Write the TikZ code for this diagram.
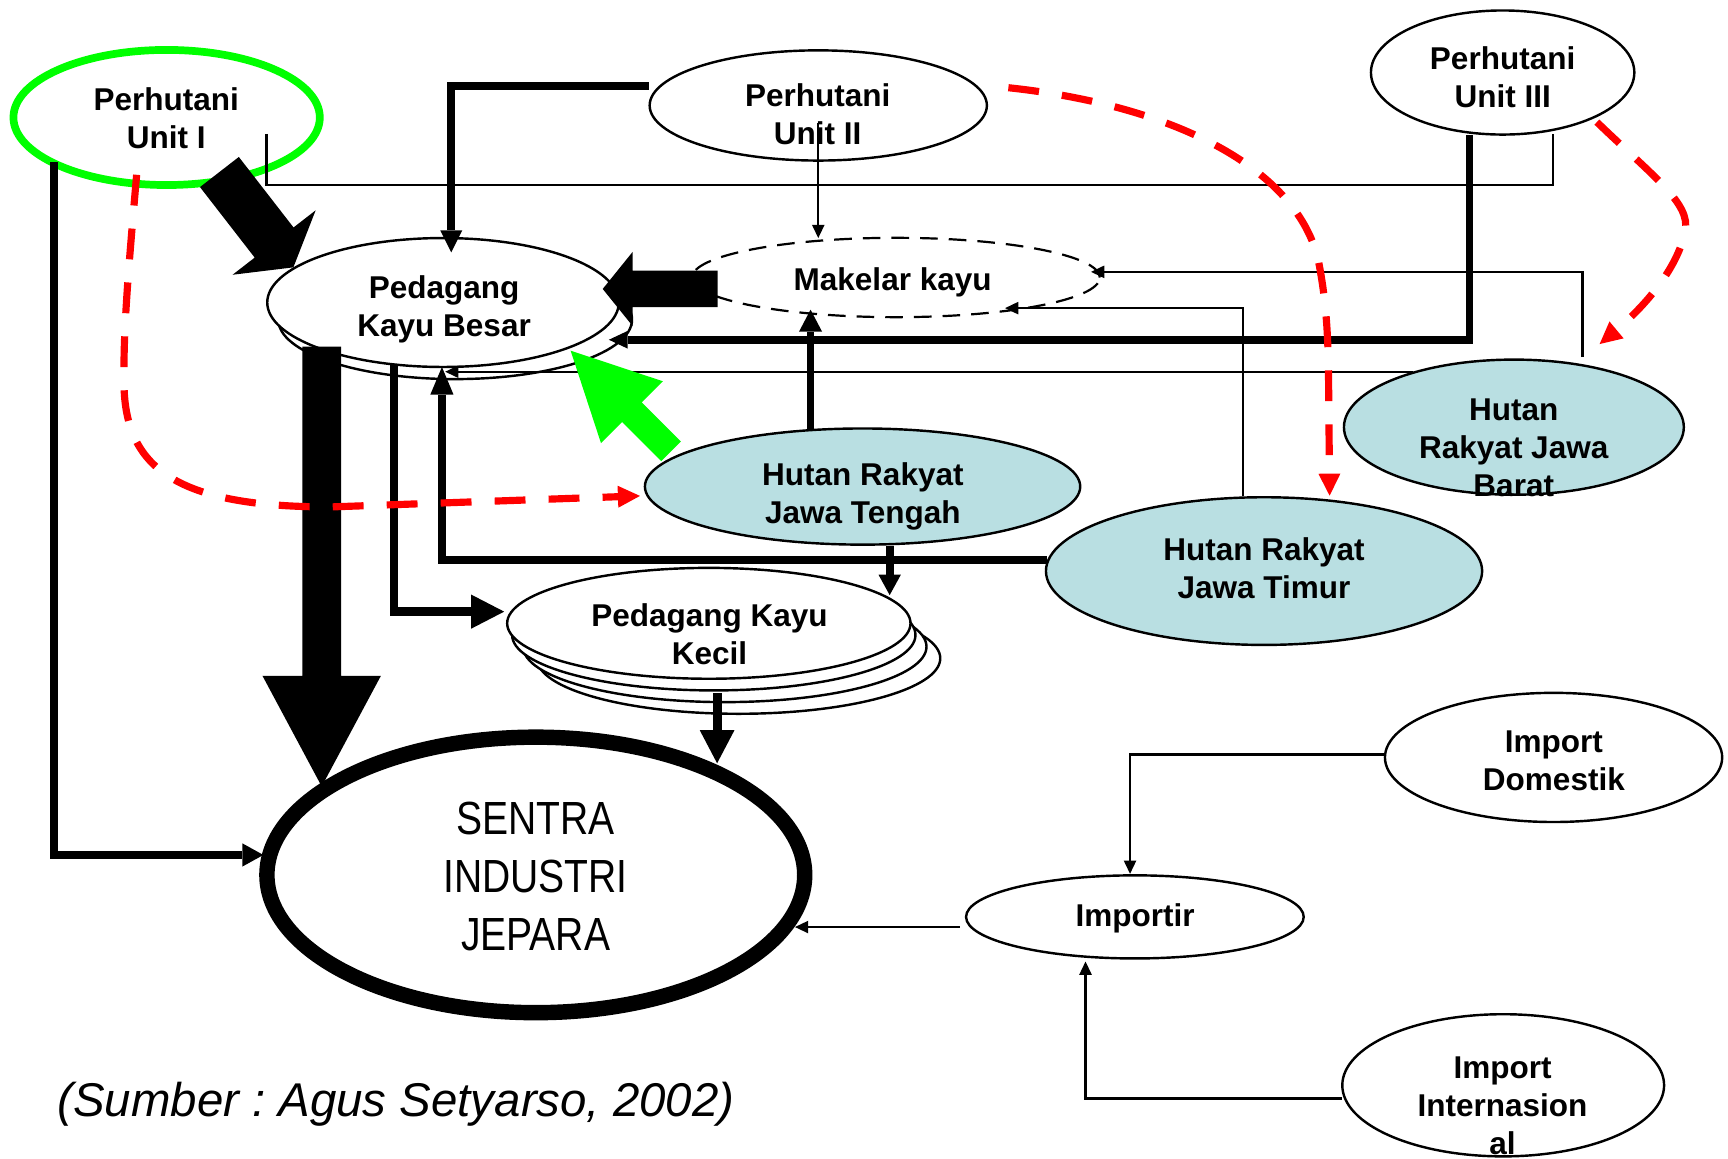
\documentclass[tikz,border=0pt]{standalone}
\usepackage{fontspec}
\setmainfont{Liberation Sans}
\newfontfamily\sentrafont[FakeStretch=0.84]{Liberation Sans}
\usetikzlibrary{shapes.geometric,arrows.meta,calc}
\definecolor{hutan}{RGB}{185,223,226}
\definecolor{pgreen}{RGB}{0,255,0}
\definecolor{pred}{RGB}{255,0,0}
\frenchspacing
\newcommand\blockarrow[6]{%
  \coordinate (bahead) at ($(#3)!#6!(#2)$);
  \fill[#1] ($(#2)!#4!90:(#3)$) -- ($(bahead)!#4!-90:(#2)$) -- ($(bahead)!#5!-90:(#2)$) -- (#3)
    -- ($(bahead)!#5!90:(#2)$) -- ($(bahead)!#4!90:(#2)$) -- ($(#2)!#4!-90:(#3)$) -- cycle;}
\tikzset{
  ell/.style={ellipse, draw, line width=2.2pt, fill=white, inner sep=0pt, outer sep=0pt},
  hut/.style={ell, fill=hutan},
  mkell/.style={ell, line width=2pt, dash pattern=on 16pt off 10pt},
  lbl/.style={font=\fontsize{28.6}{34.4}\selectfont\bfseries, align=center, inner sep=0pt},
  thinc/.style={line width=2.2pt},
  thinarr/.style={thinc, -{Triangle[length=12pt,width=11.5pt,line width=0pt]}},
  thickarr/.style 2 args={line width=7pt, -{Triangle[length=#1,width=#2,line width=0pt]}},
  redarr/.style={line width=6.5pt, draw=pred, dash pattern=on 28pt off 21pt,
    -{Triangle[length=20pt,width=20pt,line width=0pt]}},
}
\begin{document}
\begin{tikzpicture}[x=1pt,y=-1pt]
\useasboundingbox (0,0) rectangle (1568,1050.8);
% ---- shapes
\node[ell, draw=pgreen, line width=7pt, minimum width=278pt, minimum height=122.6pt] (p1) at (151.2,106.6) {};
\node[ell, minimum width=306pt, minimum height=100pt] (p2) at (742.5,95.7) {};
\node[ell, minimum width=239pt, minimum height=112.6pt] (p3) at (1363.5,65.8) {};
\node[ell, minimum width=321pt, minimum height=108pt] (pkbs) at (413,290) {};
\node[ell, minimum width=319pt, minimum height=117pt] (pkb) at (402,274.5) {};
\node[mkell, minimum width=370pt, minimum height=72pt] (mk) at (813,251.8) {};
\node[hut, minimum width=395pt, minimum height=105.4pt] (jt) at (782.7,441.5) {};
\node[hut, minimum width=395.8pt, minimum height=134pt] (jti) at (1147,518.2) {};
\node[hut, minimum width=308.4pt, minimum height=122.6pt] (jb) at (1373.7,387.6) {};
\node[ell, minimum width=366pt, minimum height=100.6pt] (kcs3) at (670.2,597.4) {};
\node[ell, minimum width=366pt, minimum height=100.6pt] (kcs2) at (657.7,586.8) {};
\node[ell, minimum width=366pt, minimum height=100.6pt] (kcs1) at (647.7,576.2) {};
\node[ell, minimum width=366pt, minimum height=100.6pt] (kc) at (643.2,565.6) {};
\node[ell, line width=14pt, minimum width=488pt, minimum height=250pt] (sentra) at (486.2,793.9) {};
\node[ell, minimum width=306pt, minimum height=117.2pt] (imd) at (1409.7,687.3) {};
\node[ell, minimum width=306.4pt, minimum height=75.4pt] (imp) at (1029.8,832) {};
\node[ell, minimum width=292pt, minimum height=129pt] (imi) at (1364,984.8) {};
% ---- texts
\node[lbl] (t1) at (150.8,110.6) {\strut Perhutani\\\strut Unit I};
\node[lbl] (t2) at (742,107.4) {\strut Perhutani\\\strut Unit II};
\node[lbl] (t3) at (1363.5,73.4) {\strut Perhutani\\\strut Unit III};
\node[lbl] (t4) at (403,281.4) {\strut Pedagang\\\strut Kayu Besar};
\node[lbl] (t5) at (810,256.7) {\strut Makelar kayu};
\node[lbl] (t6) at (783,451.2) {\strut Hutan Rakyat\\\strut Jawa Tengah};
\node[lbl] (t7) at (1147,518.7) {\strut Hutan Rakyat\\\strut Jawa Timur};
\node[lbl] (t8) at (1373.6,409) {\strut Hutan\\\strut Rakyat Jawa\\\strut Barat};
\node[lbl] (t9) at (643.8,578.7) {\strut Pedagang Kayu\\\strut Kecil};
\node[lbl] (t10) at (1410,692.8) {\strut Import\\\strut Domestik};
\node[lbl] (t11) at (1030,833.8) {\strut Importir};
\node[lbl] (t12) at (1363.4,1006.4) {\strut Import\\\strut Internasion\\\strut al};
\node[font=\sentrafont\fontsize{42.2}{52.7}\selectfont, align=center, inner sep=0pt] (t13) at (486,799.4)
  {\strut SENTRA\\\strut INDUSTRI\\\strut JEPARA};
\node[font=\fontsize{43}{50}\selectfont\itshape, anchor=base west, inner sep=0pt] (src) at (52,1013)
  {(Sumber : Agus Setyarso, 2002)};
% ---- thin connectors
\draw[thinc] ($(p1)+(90.8,14.9)$) -- ++(0,46.3) -| ($(p3)+(45.5,55.7)$);
\draw[thinarr] ($(p2)+(0,16.3)$) -- ($(mk)+(-70.5,-35.8)$);
\draw[thinarr] ($(jb)+(62.3,-63.6)$) |- ($(mk)+(177,-5.1)$);
\draw[thinarr] ($(jti)+(-19,-67.9)$) |- ($(mk)+(99,27.8)$);
\draw[thinarr] ($(jb)+(-91.7,-50.3)$) -- ($(pkb)+(2,62.8)$);
\draw[thinarr] ($(imd)+(-154.2,-2.8)$) -| ($(imp)+(-4.4,-39.1)$);
\draw[thinarr] ($(imi)+(-146.5,12.1)$) -| ($(imp)+(-44.8,40.5)$);
\draw[thinarr] ($(imp)+(-158.8,9.2)$) -- ($(sentra)+(235.2,47.3)$);
% ---- thick connectors
\draw[thickarr={20pt}{20pt}] ($(p2)+(-154,-17.7)$) -| ($(pkb)+(7.5,-45.5)$);
\draw[thickarr={17pt}{16pt}] ($(p3)+(-30.1,56.8)$) |- ($(pkb)+(150.5,33.8)$);
\draw[thickarr={20pt}{21pt}] ($(jt)+(-47.2,-51.5)$) -- ($(mk)+(-77.5,29.2)$);
\draw[thickarr={25pt}{21pt}] ($(jti)+(-197,-9.8)$) -| ($(pkb)+(-1,58.5)$);
\draw[thickarr={18.5pt}{20.3pt}] ($(jt)+(24.6,53.5)$) -- ($(kc)+(164.1,-25.6)$);
\draw[thickarr={30pt}{31pt}, line width=8pt] ($(pkb)+(-44.5,55.5)$) |- ($(kc)+(-185.7,-10.6)$);
\draw[thickarr={30pt}{31.5pt}, line width=8.2pt] ($(kc)+(7.5,63.4)$) -- ($(sentra)+(164.5,-101.3)$);
\draw[thickarr={19pt}{21pt}] ($(p1)+(-102.4,40.2)$) |- ($(sentra)+(-247.2,-18.1)$);
% ---- block arrows
\coordinate (b1s) at ($(p1)+(47.9,49.5)$);
\coordinate (b1t) at ($(pkb)+(-135.8,-31.9)$);
\blockarrow{black}{b1s}{b1t}{22.3pt}{47.7pt}{28.5pt}
\coordinate (b2s) at ($(mk)+(-161.8,10.4)$);
\coordinate (b2t) at ($(pkb)+(144.9,-12.3)$);
\blockarrow{black}{b2s}{b2t}{16.6pt}{33.7pt}{27.2pt}
\coordinate (b3s) at ($(pkb)+(-110.1,40.1)$);
\coordinate (b3t) at ($(sentra)+(-194.3,-80.3)$);
\blockarrow{black}{b3s}{b3t}{17.6pt}{53.75pt}{100.4pt}
\coordinate (b4s) at ($(jt)+(-173.8,-31.9)$);
\coordinate (b4t) at ($(pkb)+(115.8,43.7)$);
\blockarrow{pgreen}{b4s}{b4t}{12.6pt}{39.7pt}{78.8pt}
% ---- red dashed
\draw[redarr] ($(p1)+(-27.2,52)$) .. controls (116,250) and (112,300) .. (112.5,345)
  .. controls (112,425) and (160,460) .. (300,460) -- ($(jt)+(-202,8.5)$);
\draw[redarr] ($(p2)+(172.5,-16.1)$) .. controls (1060,95) and (1175,150) .. (1196,235)
  .. controls (1203,270) and (1205,300) .. (1205.5,340) -- ($(jti)+(59.5,-68.4)$);
\draw[redarr] ($(p3)+(85.5,45)$) .. controls (1500,160) and (1535,185) .. (1529,210)
  .. controls (1522,245) and (1490,280) .. ($(jb)+(77.8,-75.4)$);
\end{tikzpicture}
\end{document}
